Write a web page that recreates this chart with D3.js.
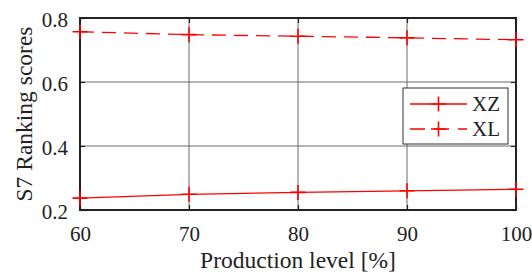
<!DOCTYPE html>
<html lang="en">
  <head>
    <meta charset="UTF-8" />
    <script src="https://d3js.org/d3.v7.min.js"></script>
    <style>
      body { margin: 0; background: #fff; }
      svg text { font-family: 'Liberation Serif', serif; }
    </style>
  </head>
  <body>
    <div id="chart"></div>
    <script>
      // data
      const levels = [60, 70, 80, 90, 100]
      const xz = [0.237, 0.249, 0.255, 0.26, 0.265]
      const xl = [0.757, 0.748, 0.743, 0.738, 0.732]
      const yTicks = [0.2, 0.4, 0.6, 0.8]
      const seriesNames = ['XZ', 'XL']

      const W = 532, H = 273
      const margin = { top: 18, right: 16, bottom: 63, left: 80 }
      const width = W - margin.left - margin.right
      const height = H - margin.top - margin.bottom

      const svg = d3.select('#chart').append('svg')
        .attr('width', W).attr('height', H)
      const g = svg.append('g')
        .attr('transform', `translate(${margin.left}, ${margin.top})`)

      const x = d3.scaleLinear().domain([60, 100]).range([0, width])
      const y = d3.scaleLinear().domain([0.2, 0.8]).range([height, 0])

      // grid
      g.append('g').selectAll('line').data(levels).join('line')
        .attr('x1', d => x(d)).attr('x2', d => x(d))
        .attr('y1', 0).attr('y2', height)
        .attr('stroke', '#6a6a6a').attr('stroke-width', 1)
      g.append('g').selectAll('line').data(yTicks).join('line')
        .attr('x1', 0).attr('x2', width)
        .attr('y1', d => y(d)).attr('y2', d => y(d))
        .attr('stroke', '#6a6a6a').attr('stroke-width', 1)

      // axes (inward ticks, MATLAB style)
      const xAxis = g.append('g')
        .attr('transform', `translate(0, ${height})`)
        .call(d3.axisBottom(x).tickValues(levels).tickSizeInner(-5).tickSizeOuter(0).tickPadding(16))
      const xTop = g.append('g')
        .call(d3.axisTop(x).tickValues(levels).tickSizeInner(-5).tickSizeOuter(0).tickFormat(''))
      const yAxis = g.append('g')
        .call(d3.axisLeft(y).tickValues(yTicks).tickFormat(d3.format('.1f')).tickSizeInner(-5).tickSizeOuter(0).tickPadding(12))
      const yRight = g.append('g')
        .attr('transform', `translate(${width}, 0)`)
        .call(d3.axisRight(y).tickValues(yTicks).tickSizeInner(-5).tickSizeOuter(0).tickFormat(''))
      ;[xAxis, xTop, yAxis, yRight].forEach(a => {
        a.attr('font-family', null)
        a.select('.domain').remove()
        a.selectAll('line').attr('stroke', '#222').attr('stroke-width', 1.2)
        a.selectAll('text').attr('font-size', 21).attr('fill', '#222')
      })
      yAxis.selectAll('text').attr('dy', '0.4em')

      // frame
      g.append('rect')
        .attr('width', width).attr('height', height)
        .attr('fill', 'none').attr('stroke', '#222').attr('stroke-width', 2)

      const series = [
        { name: seriesNames[0], values: xz, dash: null },
        { name: seriesNames[1], values: xl, dash: '14,8' }
      ]

      const line = d3.line().x((d, i) => x(levels[i])).y(d => y(d))

      series.forEach(s => {
        g.append('path').datum(s.values)
          .attr('d', line)
          .attr('fill', 'none').attr('stroke', '#ff0000').attr('stroke-width', 1.3)
          .attr('stroke-dasharray', s.dash)
        g.append('g').selectAll('path').data(s.values).join('path')
          .attr('d', 'M-7.5,0H7.5M0,-7.5V7.5')
          .attr('transform', (d, i) => `translate(${x(levels[i])}, ${y(d)})`)
          .attr('stroke', '#ff0000').attr('stroke-width', 1.6).attr('fill', 'none')
      })

      // legend
      const lg = svg.append('g').attr('transform', 'translate(403, 88)')
      lg.append('rect').attr('width', 105).attr('height', 56)
        .attr('fill', '#fff').attr('stroke', '#333').attr('stroke-width', 1)
      series.forEach((s, i) => {
        const ly = 16 + i * 25
        lg.append('line').attr('x1', 7).attr('x2', 64).attr('y1', ly).attr('y2', ly)
          .attr('stroke', '#ff0000').attr('stroke-width', 1.3)
          .attr('stroke-dasharray', s.dash ? '15,9' : null)
        lg.append('path').attr('d', 'M-7.5,0H7.5M0,-7.5V7.5')
          .attr('transform', `translate(35.5, ${ly})`)
          .attr('stroke', '#ff0000').attr('stroke-width', 1.6)
        lg.append('text').attr('x', 69).attr('y', ly + 7)
          .attr('font-size', 21).attr('fill', '#222').text(s.name)
      })

      // axis titles
      svg.append('text')
        .attr('x', margin.left + width / 2).attr('y', 268)
        .attr('text-anchor', 'middle').attr('font-size', 23.5).attr('fill', '#222')
        .text('Production level [%]')
      svg.append('text')
        .attr('transform', `translate(32, ${margin.top + height / 2}) rotate(-90)`)
        .attr('text-anchor', 'middle').attr('font-size', 23.5).attr('fill', '#222')
        .text('S7 Ranking scores')
    </script>
  </body>
</html>
